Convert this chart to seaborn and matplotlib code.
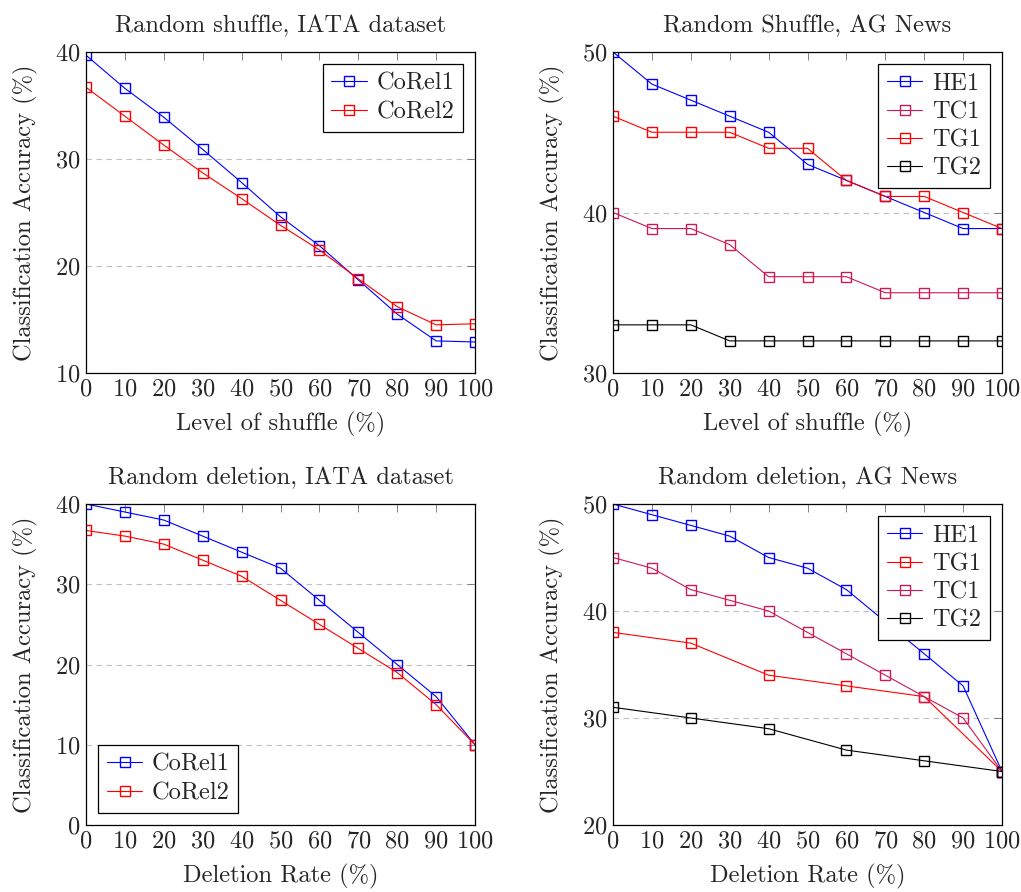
import numpy as np
import pandas as pd
import seaborn as sns
import matplotlib.pyplot as plt

sns.set_style('white')
plt.rcParams['font.family'] = ['cmr10', 'DejaVu Serif']
plt.rcParams['mathtext.fontset'] = 'cm'
plt.rcParams['axes.formatter.use_mathtext'] = True

x_full = [0, 10, 20, 30, 40, 50, 60, 70, 80, 90, 100]
x_half = [0, 20, 40, 60, 80, 100]

# Random shuffle, IATA
shuf_iata_corel1 = [39.7, 36.6, 33.9, 30.9, 27.8, 24.6, 21.9, 18.7, 15.5, 13.0, 12.9]
shuf_iata_corel2 = [36.7, 34.0, 31.3, 28.7, 26.3, 23.8, 21.5, 18.8, 16.2, 14.5, 14.6]

# Random shuffle, AG News
shuf_ag_he1 = [50, 48, 47, 46, 45, 43, 42, 41, 40, 39, 39]
shuf_ag_tc1 = [40, 39, 39, 38, 36, 36, 36, 35, 35, 35, 35]
shuf_ag_tg1 = [46, 45, 45, 45, 44, 44, 42, 41, 41, 40, 39]
shuf_ag_tg2 = [33, 33, 33, 32, 32, 32, 32, 32, 32, 32, 32]

# Random deletion, IATA
del_iata_corel1 = [40, 39, 38, 36, 34, 32, 28, 24, 20, 16, 10]
del_iata_corel2 = [36.7, 36, 35, 33, 31, 28, 25, 22, 19, 15, 10]

# Random deletion, AG News
del_ag_he1 = [50, 49, 48, 47, 45, 44, 42, 39, 36, 33, 25]
del_ag_tg1 = [38, 37, 34, 33, 32, 25]
del_ag_tc1 = [45, 44, 42, 41, 40, 38, 36, 34, 32, 30, 25]
del_ag_tg2 = [31, 30, 29, 27, 26, 25]

BLUE = '#0000ff'
RED = '#ff0000'
CRIMSON = '#cc1a52'
BLACK = '#000000'

FS = 17.6

fig = plt.figure(figsize=(10.21, 8.92), dpi=100)
W, H = 1021, 892


def make_ax(left, top, right, bottom):
    return fig.add_axes([left / W, 1 - bottom / H, (right - left) / W, (bottom - top) / H])


def draw(ax, series, title, xlabel, ylim, yticks, loc):
    for name, xs, ys, color in series:
        df = pd.DataFrame({'x': xs, 'y': ys})
        sns.lineplot(data=df, x='x', y='y', ax=ax, color=color, marker='s',
                     markersize=7, mfc='none', mec=color, mew=1.0,
                     linewidth=0.8, label=name)
    ax.set_xlim(0, 100)
    ax.set_ylim(*ylim)
    ax.set_xticks(x_full)
    ax.set_yticks(yticks)
    ax.tick_params(axis='both', direction='in', length=6, width=0.6, color='#707070',
                   labelsize=FS, top=True, right=True, pad=4)
    ax.grid(axis='y', linestyle=(0, (5, 4)), color='#c0c0c0', linewidth=0.8)
    for sp in ax.spines.values():
        sp.set_color('black')
        sp.set_linewidth(0.9)
    ax.set_title(title, fontsize=FS, pad=14)
    ax.set_xlabel(xlabel, fontsize=FS, labelpad=8)
    ax.set_ylabel('Classification Accuracy (%)', fontsize=FS, labelpad=12)
    leg = ax.legend(loc=loc, fontsize=FS, frameon=True, fancybox=False,
                    edgecolor='black', framealpha=1, handlelength=1.45,
                    borderpad=0.35, labelspacing=0.25, handletextpad=0.4,
                    borderaxespad=0.5)
    leg.get_frame().set_linewidth(0.9)


ax1 = make_ax(86, 52, 475, 373)
draw(ax1, [('CoRel1', x_full, shuf_iata_corel1, BLUE),
           ('CoRel2', x_full, shuf_iata_corel2, RED)],
     'Random shuffle, IATA dataset', 'Level of shuffle (%)',
     (10, 40), [10, 20, 30, 40], 'upper right')

ax2 = make_ax(613, 52, 1002, 373)
draw(ax2, [('HE1', x_full, shuf_ag_he1, BLUE),
           ('TC1', x_full, shuf_ag_tc1, CRIMSON),
           ('TG1', x_full, shuf_ag_tg1, RED),
           ('TG2', x_full, shuf_ag_tg2, BLACK)],
     'Random Shuffle, AG News', 'Level of shuffle (%)',
     (30, 50), [30, 40, 50], 'upper right')

ax3 = make_ax(86, 504, 475, 825)
draw(ax3, [('CoRel1', x_full, del_iata_corel1, BLUE),
           ('CoRel2', x_full, del_iata_corel2, RED)],
     'Random deletion, IATA dataset', 'Deletion Rate (%)',
     (0, 40), [0, 10, 20, 30, 40], 'lower left')

ax4 = make_ax(613, 504, 1002, 825)
draw(ax4, [('HE1', x_full, del_ag_he1, BLUE),
           ('TG1', x_half, del_ag_tg1, RED),
           ('TC1', x_full, del_ag_tc1, CRIMSON),
           ('TG2', x_half, del_ag_tg2, BLACK)],
     'Random deletion, AG News', 'Deletion Rate (%)',
     (20, 50), [20, 30, 40, 50], 'upper right')

fig.savefig('out.png', dpi=100)
